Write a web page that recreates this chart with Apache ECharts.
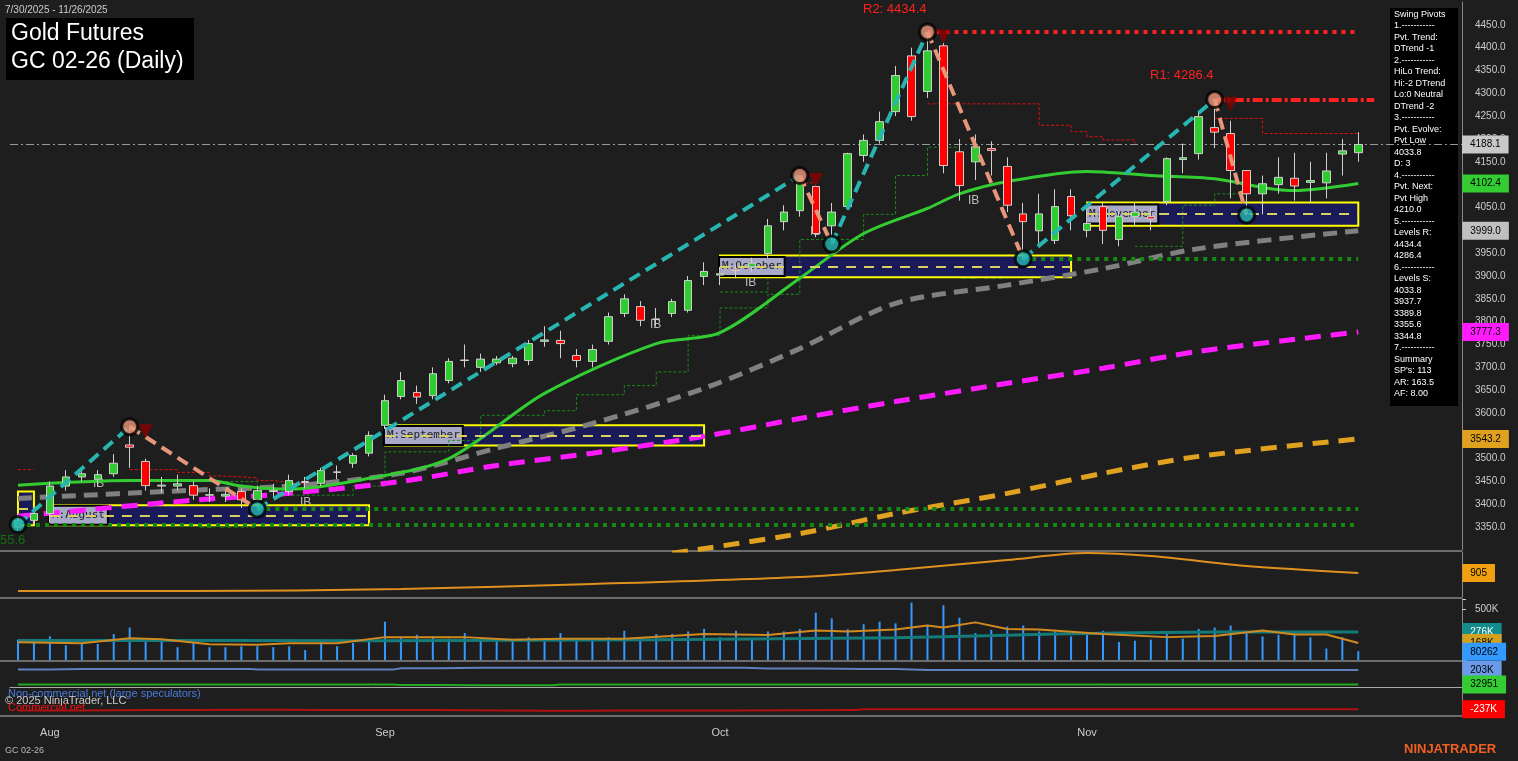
<!DOCTYPE html>
<html><head><meta charset="utf-8">
<script src="https://cdn.jsdelivr.net/npm/echarts@6/dist/echarts.min.js"></script>
<style>html,body{margin:0;padding:0;background:#1e1e1e}#c{width:1518px;height:761px}</style>
</head><body><div id="c"></div>
<script>
const dates=['7/30','7/31','8/1','8/4','8/5','8/6','8/7','8/8','8/11','8/12','8/13','8/14','8/15','8/18','8/19','8/20','8/21','8/22','8/25','8/26','8/27','8/28','8/29',
'9/2','9/3','9/4','9/5','9/8','9/9','9/10','9/11','9/12','9/15','9/16','9/17','9/18','9/19','9/22','9/23','9/24','9/25','9/26','9/29','9/30',
'10/1','10/2','10/3','10/6','10/7','10/8','10/9','10/10','10/13','10/14','10/15','10/16','10/17','10/20','10/21','10/22','10/23','10/24','10/27','10/28','10/29','10/30','10/31',
'11/3','11/4','11/5','11/6','11/7','11/10','11/11','11/12','11/13','11/14','11/17','11/18','11/19','11/20','11/21','11/24','11/25','11/26'];
const padCats=['','','','','',''];
const monthLabels={'8/1':'Aug','9/2':'Sep','10/1':'Oct','11/3':'Nov'};
// [open, close, low, high]
const ohlc=[[3350,3365,3340,3380],[3365,3380,3355,3395],[3380,3440,3360,3450],[3440,3460,3430,3475],[3460,3467,3450,3480],[3455,3465,3440,3475],[3467,3490,3460,3510],[3530,3525,3480,3570],
[3494,3441,3430,3500],[3440,3442,3425,3460],[3440,3445,3430,3465],[3441,3420,3410,3450],[3420,3421,3405,3435],[3418,3422,3405,3432],[3428,3410,3392,3435],[3410,3430,3390,3440],[3430,3428,3415,3445],
[3428,3452,3420,3465],[3450,3448,3435,3460],[3446,3474,3440,3480],[3470,3471,3455,3485],[3490,3507,3480,3512],[3512,3551,3505,3560],
[3573,3627,3565,3640],[3636,3671,3630,3690],[3645,3635,3620,3660],[3638,3686,3630,3700],[3671,3713,3665,3720],[3715,3716,3700,3750],[3700,3718,3690,3730],[3710,3718,3705,3725],[3708,3720,3700,3725],
[3715,3752,3705,3760],[3757,3760,3745,3790],[3759,3752,3720,3780],[3726,3715,3700,3740],[3713,3739,3700,3750],[3757,3811,3750,3820],[3818,3850,3810,3860],[3833,3803,3790,3845],[3805,3806,3790,3830],
[3818,3844,3810,3850],[3825,3890,3820,3900],[3899,3910,3880,3930],
[3902,3905,3880,3920],[3915,3912,3895,3925],[3920,3928,3910,3940],[3949,4010,3940,4025],[4019,4040,4000,4055],[4043,4113,4030,4120],[4096,3993,3985,4100],[4010,4040,3970,4060],
[4052,4168,4045,4170],[4164,4197,4150,4210],[4197,4238,4190,4260],[4260,4339,4250,4360],[4382,4249,4240,4400],[4304,4393,4290,4434],[4404,4142,4125,4410],[4172,4098,4065,4200],
[4150,4183,4110,4210],[4179,4175,4120,4195],[4140,4055,4040,4160],[4036,4019,3937,4060],[3999,4036,3970,4080],[3978,4052,3970,4090],[4074,4032,4000,4090],
[4000,4015,3985,4050],[4052,4000,3970,4060],[3980,4030,3965,4040],[4030,4040,4010,4060],[4030,4025,4000,4050],[4063,4157,4055,4160],[4155,4159,4125,4190],[4168,4249,4155,4260],
[4225,4215,4180,4286],[4212,4131,4070,4240],[4131,4080,4034,4130],[4080,4102,4035,4120],[4100,4116,4080,4160],[4114,4097,4065,4170],[4105,4109,4060,4150],[4104,4130,4070,4170],[4167,4174,4120,4200],[4170,4188,4150,4215]];
const maGreen=[[0,3442],[7,3452],[12,3452],[14,3440],[17,3433],[22,3457],[27,3500],[33,3643],[40,3752],[44,3776],[49,3895],[53,3993],[57,4048],[59,4080],[62,4107],[67,4129],[71,4120],[75,4113],[78,4094],[80,4087],[84,4102.4]];
const maGray=[[0,3413],[11,3431],[17,3440],[24,3468],[30,3523],[36,3577],[43,3654],[49,3741],[55,3840],[62,3880],[68,3916],[74,3960],[84,3999.0]];
const maMagenta=[[0,3374],[11,3409],[17,3424],[24,3450],[30,3485],[36,3512],[43,3549],[49,3588],[55,3625],[62,3665],[68,3698],[74,3735],[84,3777.3]];
const maOrange=[[41,3293],[49,3336],[55,3380],[62,3424],[68,3468],[74,3505],[84,3543.2]];
const swingUp=[[[0,3355.6],[7,3570]],[[15,3389.8],[49,4120]],[[51,3970],[57,4434.4]],[[63,3937.7],[75,4286.4]]];
const swingDown=[[[7,3570],[15,3389.8]],[[49,4120],[51,3970]],[[57,4434.4],[63,3937.7]],[[75,4286.4],[77,4033.8]]];
const pivHigh=[[7,3570],[49,4120],[57,4434.4],[75,4286.4]];
const pivLow=[[0,3355.6],[15,3389.8],[51,3970],[63,3937.7],[77,4033.8]];
const redStops=[[[0,3476],[1,3476]],[[7,3476],[9,3476],[10,3470],[12,3462],[13,3458],[15,3452],[16,3448],[17,3445],[18,3444]],[[49,4104],[50,4104]],
 [[57,4277],[58,4277],[63,4277],[64,4230],[66,4216],[67,4205],[68,4198],[70,4190]],[[75,4245],[77,4245],[78,4212],[84,4212]]];
const greenStops=[[[13,3450],[15,3435],[17,3420],[21,3440],[23,3515],[27,3540],[29,3595],[33,3605],[35,3640],[38,3660],[40,3690],[42,3770],[44,3830],[47,3860],[49,3980],[51,3980],[53,4035],[55,4120],[57,4182],[59,4182]],
 [[44,3865],[46,3865],[47,3895]],[[70,3965],[72,3965],[73,4055],[75,4080],[77,4080]]];
const monthBoxes=[['',0,1,3354,3428],['M:August',2,22,3354,3398],['M:September',23,43,3529,3573],['M:October',44,66,3897,3945],['M:November',67,84,4010,4061]];
const atr=[[0,545],[11,545],[24,585],[36,685],[49,825],[55,965],[62,1165],[67,1305],[71,1245],[77,1045],[84,905]];
const volume=[200,168,232,145,158,158,255,319,210,190,126,168,126,126,135,135,126,135,97,174,135,168,177,377,216,248,232,210,265,210,184,184,223,184,265,210,210,223,287,223,255,255,281,306,223,287,210,281,281,306,465,410,303,352,377,360,565,345,539,416,265,297,329,339,281,281,232,265,287,177,190,200,255,210,306,319,339,281,232,248,265,223,113,223,87].map(v=>v*1000);
const volAvg=[[0,175],[4,165],[7,215],[9,205],[12,155],[15,150],[17,165],[20,165],[23,225],[28,225],[31,200],[34,210],[38,210],[43,255],[47,245],[50,290],[52,280],[55,300],[57,340],[58,320],[60,370],[62,305],[64,300],[68,255],[72,225],[75,235],[78,290],[80,250],[82,250],[84,168]].map(p=>[p[0],p[1]*1000]);
const volSlow=[[0,192],[23,190],[40,200],[55,220],[65,255],[75,275],[84,276]].map(p=>[p[0],p[1]*1000]);
const cotNonComm=[[0,196],[4,203],[14,203],[15,195],[23,195],[24,210],[29,214],[44,214],[47,208],[53,202],[57,191],[84,191]].map(p=>[p[0],p[1]*1000]);
const cotSmall=[[0,32951],[23,32951],[24,28000],[29,24000],[33,24000],[34,32951],[84,32951]];
const cotComm=[[0,-250],[8,-246],[14,-242],[19,-246],[33,-254],[38,-250],[52,-246],[53,-237],[84,-237]].map(p=>[p[0],p[1]*1000]);
const lastPrice=4188.1;
const levels={R2:4434.4,R1:4286.4,S1:3937.7,S2:3389.8,S3:3355.6};
const panelText=['Swing Pivots','1.-----------','Pvt. Trend:','DTrend -1','2.-----------','HiLo Trend:','Hi:-2 DTrend','Lo:0 Neutral','DTrend -2','3.-----------','Pvt. Evolve:','Pvt Low','4033.8','D: 3','4.-----------','Pvt. Next:','Pvt High','4210.0','5.-----------','Levels R:','4434.4','4286.4','6.-----------','Levels S:','4033.8','3937.7','3389.8','3355.6','3344.8','7.-----------','Summary',"SP's: 113",'AR: 163.5','AF: 8.00'];

const cats=dates.concat(padCats);
const chart=echarts.init(document.getElementById('c'));
const L=10,R=56;
const grids=[{left:L,right:R,top:2,height:548},{left:L,right:R,top:552,height:45},{left:L,right:R,top:599,height:61},{left:L,right:R,top:662,height:53}];
const xAx=grids.map((g,i)=>({type:'category',gridIndex:i,data:cats,boundaryGap:true,axisTick:{show:false},
  axisLine:{show:i===3,lineStyle:{color:'#aaa'}},splitLine:{show:false},
  axisLabel:{show:i===3,interval:0,color:'#ccc',fontSize:11,margin:12,fontFamily:'Arial',formatter:v=>monthLabels[v]||''}}));
const ylab=(fmt)=>({color:'#ccc',fontSize:10,fontFamily:'Arial',align:'left',margin:13,formatter:fmt});
const yAx=[
 {type:'value',gridIndex:0,position:'right',min:3300,max:4500,interval:50,splitLine:{show:false},axisLine:{show:true,lineStyle:{color:'#888'}},axisTick:{show:false},
  axisLabel:ylab(v=>(v>=3350&&v<=4450)?v.toFixed(1):'')},
 {type:'value',gridIndex:1,position:'right',min:425,max:1325,splitLine:{show:false},axisLine:{show:true,lineStyle:{color:'#888'}},axisLabel:{show:false},axisTick:{show:false}},
 {type:'value',gridIndex:2,position:'right',min:0,max:600000,interval:500000,splitLine:{show:false},axisLine:{show:true,lineStyle:{color:'#888'}},axisTick:{show:true,length:4,lineStyle:{color:'#ccc'}},
  axisLabel:ylab(v=>v===500000?'500K':'')},
 {type:'value',gridIndex:3,position:'right',min:-300000,max:278000,splitLine:{show:false},axisLine:{show:true,lineStyle:{color:'#888'}},axisLabel:{show:false},axisTick:{show:false}}
];
function tag(text,bg,fg,dist){return {show:true,formatter:text,backgroundColor:bg,color:fg||'#000',fontSize:10,fontFamily:'Arial',padding:[4,8,4,8],distance:dist,align:'left'};}
const series=[];
const xEnd=90;
series.push({type:'line',xAxisIndex:0,yAxisIndex:0,data:[],silent:true,
 markArea:{silent:true,data:monthBoxes.map(b=>[{coord:[b[1],b[4]],itemStyle:{color:'#1a1a5a',borderColor:'#ffff00',borderWidth:2},
   label:{show:!!b[0],position:'insideLeft',formatter:b[0],fontFamily:'DejaVu Sans Mono',fontSize:11,color:'#222',backgroundColor:'#a8a8c8',borderColor:'#000',borderWidth:2,padding:[3,2],offset:[-4,0]}},{coord:[b[2],b[3]]}])},
 markLine:{silent:true,symbol:'none',label:{show:false},lineStyle:{color:'#d8d060',type:[10,8],width:2},
   data:monthBoxes.map(b=>[{coord:[b[1],(b[3]+b[4])/2]},{coord:[b[2],(b[3]+b[4])/2]}])}});
series.push({type:'line',xAxisIndex:0,yAxisIndex:0,data:[],silent:true,
 markLine:{silent:true,symbol:'none',data:[
  [{coord:[57,levels.R2],lineStyle:{color:'#ff2020',type:[4,5],width:4},label:{show:false}},{coord:[84,levels.R2]}],
  [{coord:[75,levels.R1],lineStyle:{color:'#ff2020',type:[10,3,3,3],width:4},label:{show:false}},{coord:[85,levels.R1]}],
  [{coord:[63,levels.S1],lineStyle:{color:'#138813',type:[4,5],width:4},label:{show:false}},{coord:[84,levels.S1]}],
  [{coord:[15,levels.S2],lineStyle:{color:'#138813',type:[4,5],width:4},label:{show:false}},{coord:[84,levels.S2]}],
  [{coord:[0,levels.S3],lineStyle:{color:'#138813',type:[4,5],width:4},label:{show:false}},{coord:[84,levels.S3]}],
  {yAxis:lastPrice,lineStyle:{color:'#999',type:[8,3,2,3],width:1},label:Object.assign(tag(String(lastPrice),'#c8c8c8','#000',0),{position:'end'})}
 ]}});
const ma=(d,c,w,typ,lab,labBg,labFg)=>({type:'line',xAxisIndex:0,yAxisIndex:0,data:d,smooth:0.3,symbol:'none',lineStyle:{color:c,width:w,type:typ},
  endLabel:tag(lab,labBg,labFg,104),z:3});
series.push(ma(maOrange,'#e0a020',5,[16,10],'3543.2','#e0a020'));
series.push(ma(maMagenta,'#ff1aff',5,[16,10],'3777.3','#ff1aff'));
series.push(ma(maGray,'#808080',5,[14,8],'3999.0','#c0c0c0'));
series.push(ma(maGreen,'#33cc33',3,'solid','4102.4','#33cc33'));
redStops.forEach(s=>series.push({type:'line',xAxisIndex:0,yAxisIndex:0,data:s,step:'end',symbol:'none',lineStyle:{color:'#e01010',width:1,type:[3,2]},z:2}));
greenStops.forEach(s=>series.push({type:'line',xAxisIndex:0,yAxisIndex:0,data:s,step:'end',symbol:'none',lineStyle:{color:'#1a8a1a',width:1,type:[3,2]},z:2}));
series.push({type:'candlestick',xAxisIndex:0,yAxisIndex:0,data:ohlc,barWidth:8,z:5,
 itemStyle:{color:'#2ecc2e',color0:'#ff0000',borderColor:'#d0d0d0',borderColor0:'#d0d0d0',borderWidth:1}});
swingUp.forEach(s=>series.push({type:'line',xAxisIndex:0,yAxisIndex:0,data:s,symbol:'none',z:6,lineStyle:{color:'#26b5b0',width:4,type:[12,7]}}));
swingDown.forEach(s=>series.push({type:'line',xAxisIndex:0,yAxisIndex:0,data:s,symbol:'none',z:6,lineStyle:{color:'#e8967a',width:4,type:[12,7]}}));
series.push({type:'scatter',xAxisIndex:0,yAxisIndex:0,data:pivHigh,symbolSize:16,z:7,itemStyle:{color:'#e8967a',borderColor:'#000',borderWidth:3}});
series.push({type:'scatter',xAxisIndex:0,yAxisIndex:0,data:pivLow,symbolSize:16,z:7,itemStyle:{color:'#26b5b0',borderColor:'#000',borderWidth:3}});
series.push({type:'scatter',xAxisIndex:0,yAxisIndex:0,data:pivHigh.map(p=>[p[0]+1,p[1]-10]),symbol:'triangle',symbolRotate:180,symbolSize:14,z:7,itemStyle:{color:'#8b0000'}});
series.push({type:'line',xAxisIndex:1,yAxisIndex:1,data:atr,smooth:0.3,symbol:'none',lineStyle:{color:'#e0901e',width:2},endLabel:tag('905','#f0a010','#000',104)});
series.push({type:'bar',xAxisIndex:2,yAxisIndex:2,data:volume,barWidth:2,itemStyle:{color:'#3399ff'}});
series.push({type:'line',xAxisIndex:2,yAxisIndex:2,data:volSlow,smooth:0.3,symbol:'none',lineStyle:{color:'#147a7a',width:3},endLabel:tag('276K','#148c8c','#fff',104)});
series.push({type:'line',xAxisIndex:2,yAxisIndex:2,data:volAvg,symbol:'none',lineStyle:{color:'#d08a20',width:2},endLabel:tag('168K','#d4a020','#000',104)});
series.push({type:'line',xAxisIndex:2,yAxisIndex:2,data:[[84,80262]],symbol:'none',endLabel:tag('80262','#3399ff','#000',104)});
series.push({type:'line',xAxisIndex:3,yAxisIndex:3,data:cotNonComm,step:'middle',symbol:'none',lineStyle:{color:'#6080c0',width:2},endLabel:tag('203K','#6a9ae8','#000',104)});
series.push({type:'line',xAxisIndex:3,yAxisIndex:3,data:cotSmall,step:'middle',symbol:'none',lineStyle:{color:'#22aa22',width:2},endLabel:tag('32951','#33cc33','#000',104)});
series.push({type:'line',xAxisIndex:3,yAxisIndex:3,data:cotComm,step:'middle',symbol:'none',lineStyle:{color:'#b01010',width:2},endLabel:tag('-237K','#ff0000','#fff',104)});

const g=[];
g.push({type:'rect',left:1390,top:8,shape:{width:68,height:398},style:{fill:'#000'}});
panelText.forEach((t,i)=>g.push({type:'text',left:1394,top:10+i*11.5,style:{text:t,fill:'#fff',font:'9px Arial'}}));
g.push({type:'rect',left:6,top:18,shape:{width:188,height:62},style:{fill:'#000'}});
g.push({type:'text',left:11,top:22,style:{text:'Gold Futures',fill:'#fff',font:'23px Arial'}});
g.push({type:'text',left:11,top:50,style:{text:'GC 02-26 (Daily)',fill:'#fff',font:'23px Arial'}});
g.push({type:'text',left:5,top:5,style:{text:'7/30/2025 - 11/26/2025',fill:'#ccc',font:'10px Arial'}});
g.push({type:'text',left:863,top:3,style:{text:'R2: 4434.4',fill:'#ff2020',font:'13px Arial'}});
g.push({type:'text',left:1150,top:69,style:{text:'R1: 4286.4',fill:'#ff2020',font:'13px Arial'}});
g.push({type:'text',left:960,top:269,style:{text:'S1: 3937.7',fill:'#137013',font:'13px Arial'}});
g.push({type:'text',left:198,top:519,style:{text:'S2: 3389.8',fill:'#137013',font:'12px Arial'}});
g.push({type:'text',left:0,top:534,style:{text:'55.6',fill:'#137013',font:'13px Arial'}});
g.push({type:'text',left:1278,top:211,style:{text:'F0',fill:'#e0c050',font:'11px Arial'}});
[[968,195],[810,226],[745,277],[650,319],[93,478],[300,497]].forEach(p=>g.push({type:'text',left:p[0],top:p[1],style:{text:'IB',fill:'#bbb',font:'12px Arial'}}));
g.push({type:'text',left:8,top:688,style:{text:'Non-commercial net (large speculators)',fill:'#4a7ae0',font:'11px Arial'}});
g.push({type:'text',left:5,top:695,style:{text:'© 2025 NinjaTrader, LLC',fill:'#ccc',font:'11px Arial'}});
g.push({type:'text',left:8,top:702,style:{text:'Commercial net',fill:'#ff1010',font:'11px Arial'}});
g.push({type:'text',left:5,top:746,style:{text:'GC 02-26',fill:'#bbb',font:'9px Arial'}});
g.push({type:'text',left:1404,top:743,style:{text:'NINJATRADER',fill:'#f06020',font:'bold 13px Arial'}});
[551,598,661,716].forEach(y=>g.push({type:'line',shape:{x1:0,y1:y,x2:1462,y2:y},style:{stroke:'#bbb',lineWidth:1}}));

chart.setOption({backgroundColor:'#1e1e1e',animation:false,grid:grids,xAxis:xAx,yAxis:yAx,series:series,graphic:g});
</script></body></html>
